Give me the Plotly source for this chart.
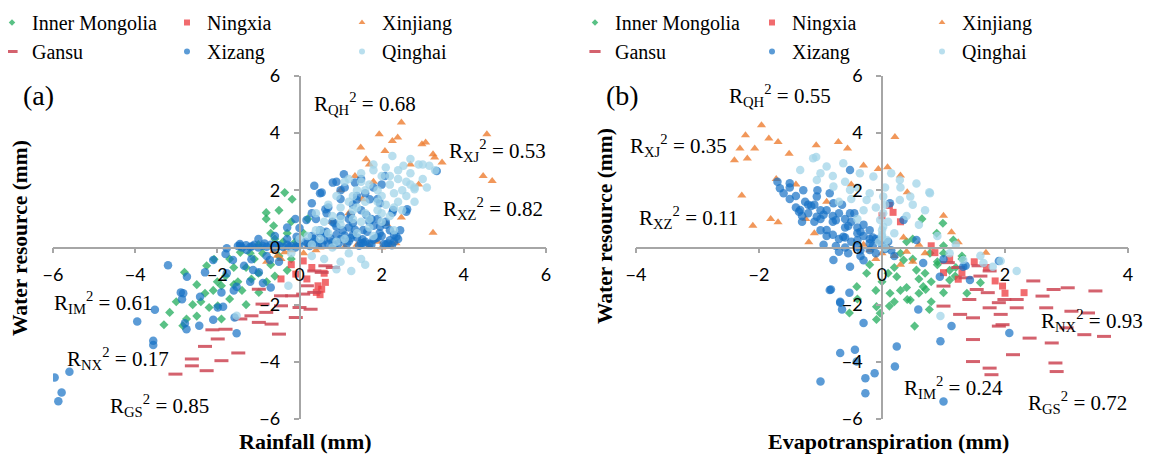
import plotly.graph_objects as go

# ---------------- data ----------------
series_names = ["Inner Mongolia", "Ningxia", "Xinjiang", "Gansu", "Xizang", "Qinghai"]

# Panel (a): Rainfall (x) vs Water resource (y)
im_a_x = [-0.36,-0.18,-0.81,-0.81,-0.63,-2.8,-3.16,-2.75,-2.84,-1.99,-1.9,-2.26,-2.08,-1.44,-1.17,-0.99,-2.5,-2.3,-2.2,-1.7,-1.5,-1.3,-1.1,-0.9,-0.7,-0.5,-0.4,-0.6,-0.3,-0.2,-0.5,-0.7,-1.0,-1.2,-1.6,-1.8,-2.0,-2.4,-2.6,-3.0,-1.4,-1.0,-0.8,-0.3,-0.1,-0.2,-1.7,-2.1,-1.3,-2.5,-0.6,0.1,0.2,-3.3,-1.9,-1.6]
im_a_y = [1.92,1.69,1.22,1.0,0.76,-0.87,-2.27,-2.5,-2.74,-2.04,-1.34,-0.64,-0.41,-0.17,-1.1,-1.57,-1.3,-1.6,-2.1,-1.8,-1.2,-0.7,-0.4,-0.2,-0.6,-0.3,0.2,0.3,0.5,0.9,1.3,0.5,0.1,-0.2,-0.7,-1.0,-1.2,-1.9,-2.0,-1.9,-1.5,-0.9,-1.2,-0.8,0.2,-0.4,-0.4,-1.5,-2.0,-2.4,-1.0,0.5,1.0,-2.7,-2.5,-1.3]

nx_a_x = [0.45,0.54,0.41,0.18,0.63,-0.09,-0.45,0.09,0.3,0.6,-0.2,0.5]
nx_a_y = [-1.34,-1.46,-1.57,-1.1,-1.22,-0.93,-1.1,-0.47,-0.7,-0.9,-0.6,-1.65]

xj_a_x = [2.48,1.94,2.39,2.26,1.49,1.62,2.08,3.07,2.98,4.56,3.29,3.47,3.25,4.47,4.69,3.25,2.48,2.12,1.35,1.53,1.7,2.7,2.9,1.8,1.2,1.0,0.8,0.2,0.5,0.8,1.1,1.4,1.7,2.0,2.2,2.35,1.9,0.4,0.1,-0.54,-0.36,-0.63,-0.2,-0.45,-0.8]
xj_a_y = [4.37,3.96,3.85,3.73,3.5,3.09,3.38,3.67,3.61,3.96,3.15,2.97,3.26,2.5,2.33,0.52,1.05,0.82,2.5,1.69,2.9,2.9,2.2,2.3,1.2,2.0,0.9,0.05,0.0,0.08,0.02,0.1,0.05,0.0,0.08,0.15,0.2,-0.1,-0.2,-0.29,-0.17,-0.12,-0.1,-0.4,-0.5]

gs_a_x = [-3.02,-2.62,-2.26,-2.62,-2.3,-1.9,-1.49,-1.99,-2.12,-1.8,-1.44,-1.17,-0.99,-0.68,-0.5,-0.81,-0.45,-0.09,0.0,0.27,-0.18,0.09,0.36,0.18,0.54,0.81,0.63,0.36,-0.45,-0.9,-0.99]
gs_a_y = [-4.43,-4.14,-4.31,-3.9,-3.46,-3.96,-3.69,-3.2,-2.88,-2.86,-2.5,-2.39,-2.62,-2.68,-3.03,-2.27,-2.04,-2.45,-2.1,-2.16,-1.69,-1.63,-1.57,-1.34,-0.87,-0.7,-0.64,-0.82,-1.69,-1.98,-1.46]

xz_a_x = [-5.96,-5.79,-5.87,-5.6,-3.95,-3.56,-3.56,-3.2,-3.52,-2.89,-2.86,-2.75,-2.44,-2.3,-1.58,-1.53,-1.99,-1.9,-1.8,-1.44,-1.35,-1.17,-0.99,
          -1.5,-1.4,-1.3,-1.2,-1.1,-1.0,-0.9,-0.8,-0.7,-0.6,-0.5,-0.4,-0.3,-0.2,-0.1,0.0,
          -0.6,-0.3,-0.1,-0.3,-1.0,-0.8,-0.5,-1.2,-0.7,-1.6,
          0.9,1.1,0.5,0.3,0.66,0.17,0.0,-0.07,1.39,1.63,1.96,2.28,2.6,2.36,1.3,0.9,1.55,1.96,
          0.2,0.4,0.6,0.8,1.0,1.2,1.4,1.6,1.8,2.0,2.2,2.4,0.3,0.7,1.1,1.5,1.9,2.3,0.5,1.3,1.7,2.1,
          -1.77,-2.1,-2.74,-2.42,-2.83,-1.62,-1.28,-1.13,-1.53,-1.86,-2.1,-2.79,-0.89,-0.72,-1.77,
          0.36,0.54,0.81,1.08,1.35,0.63,1.71,2.62,2.08,3.34,2.26,1.8,1.53,
          0.5,0.8,1.0,1.2,1.5,1.7,1.9,2.1,0.4,0.7,1.0,1.3,1.6,1.9,2.2,0.6,0.9,1.2,1.4,1.8,2.0,0.3,1.0,1.5,
          0.25,0.45,0.85,1.15,1.45,1.75,2.05,2.25,-1.45,-1.15,-0.85,-0.55,-0.25,-0.05,
          0.35,0.55,0.75,0.95,1.25,1.55,1.85,2.15,0.65,1.05,1.35,1.65,1.95,2.3,0.15,0.85,1.25,1.75,2.1,2.45]
xz_a_y = [-4.55,-5.07,-5.38,-4.35,-2.59,-3.26,-3.41,-0.62,-2.18,-1.57,-1.81,-2.86,-2.74,-0.87,-2.45,-3.0,-2.1,-1.57,-0.23,0.06,-0.64,-0.41,-0.87,
          0.05,0.0,0.08,0.02,0.1,0.0,0.06,0.03,0.1,0.0,0.07,0.02,0.1,0.05,0.0,0.1,
          0.4,0.7,1.0,0.3,0.3,-0.3,-0.5,-1.2,-1.4,-1.5,
          2.3,2.1,1.9,1.55,1.2,0.96,0.68,0.38,1.66,1.14,1.55,1.31,1.25,0.38,0.86,0.73,0.61,0.73,
          0.15,0.2,0.25,0.18,0.3,0.22,0.35,0.2,0.28,0.4,0.25,0.3,0.4,0.12,0.42,0.15,0.35,0.2,0.5,0.45,0.12,0.1,
          -0.03,-0.44,-1.02,-1.72,-1.6,-0.44,-0.09,-0.79,-1.37,-2.07,-2.53,-2.65,-1.24,-0.44,-0.9,
          2.16,1.92,2.27,2.56,2.27,1.34,1.69,1.34,2.5,2.68,1.22,0.76,0.29,
          0.6,0.9,1.1,1.0,1.3,0.9,1.0,0.8,1.0,1.4,1.7,1.5,1.9,1.7,0.6,0.5,0.45,0.7,1.8,2.1,2.2,1.2,2.0,2.4,
          0.05,0.1,0.08,0.12,0.06,0.1,0.12,0.08,0.12,0.04,0.14,0.08,0.03,0.12,
          0.3,0.12,0.32,0.14,0.33,0.16,0.32,0.14,0.55,0.6,0.62,0.55,0.5,0.45,0.2,0.85,1.15,1.0,0.9,0.6]

qh_a_x = [2.26,2.53,3.16,2.8,1.26,0.9,-0.27,-1.53,1.5,1.8,2.0,2.2,2.4,2.7,3.0,2.9,2.6,2.3,2.0,1.7,1.4,1.2,1.0,0.8,0.6,0.4,0.2,0.0,0.3,0.5,0.7,1.0,1.3,1.6,1.9,2.1,2.4,2.6,2.8,1.1,1.4,1.7,2.0,0.8,1.2,1.5,0.6,0.3,-0.2,0.9,1.1,1.6,1.9,2.5,2.2,1.8,2.3,1.3,0.7,1.5,0.4,3.3,3.1,2.7,1.6,1.0,
          1.2,1.5,1.8,2.1,2.4,2.7,1.0,1.3,1.6,1.9,2.2,2.5,2.8,3.0,1.7,2.0,2.3,0.5,0.9,1.4]
qh_a_y = [3.2,2.86,2.86,2.04,-0.82,-0.76,-1.34,-2.39,2.6,2.9,2.5,2.2,2.7,2.6,2.4,2.9,2.3,1.9,1.8,2.2,2.0,1.6,1.4,1.1,0.9,0.6,0.4,0.3,0.1,0.3,0.5,0.8,1.0,1.2,1.3,1.5,1.6,1.8,1.6,0.3,0.5,0.7,0.9,0.0,-0.2,-0.4,-0.4,-0.3,-0.2,1.8,2.3,1.6,2.0,2.0,1.1,0.4,0.6,1.3,1.5,0.9,1.2,2.7,2.1,3.1,-0.6,-0.5,
          2.4,2.3,2.7,2.8,2.4,2.2,1.0,1.8,2.0,1.6,2.5,1.3,2.1,2.9,1.0,1.2,1.4,0.6,0.2,1.4]

# Panel (b): Evapotranspiration (x) vs Water resource (y)
im_b_x = [0.24,0.13,-0.09,-0.03,0.35,0.56,0.78,0.89,0.99,1.16,0.67,0.46,-0.25,-0.41,1.1,1.38,-0.09,-0.53,0.77,1.0,0.53,1.19,1.6,1.0,0.65,0.12,0.41,0.71,0.3,0.5,0.9,1.3,0.0,-0.2,0.2,0.6,1.2,0.8,0.4,-0.4,
          0.5,0.7,0.9,1.1,1.3,0.3,0.1,-0.1,0.6,0.8,1.0,0.4,0.2]
im_b_y = [-1.02,-1.6,-2.07,-2.3,-0.44,-0.79,-0.2,0.5,0.85,0.26,-1.37,-1.84,-0.9,-1.37,-1.14,-1.6,-2.52,-2.29,-2.17,-1.58,-2.75,-1.0,-1.23,0.06,1.0,-2.05,-1.82,-1.47,-0.2,0.3,-0.6,-0.3,-1.2,-0.6,-0.7,-1.1,-0.7,-1.9,-1.4,-1.8,
          -0.4,-0.9,-0.5,-0.8,-0.4,-1.5,-0.9,-1.5,-1.6,-1.2,-0.2,0.2,-1.9]

nx_b_x = [1.96,2.31,1.84,1.3,1.24,1.0,0.18,0.12,0.0,0.86,0.8,1.7,1.5,2.0,1.1,0.3]
nx_b_y = [-1.35,-1.58,-1.17,-0.88,-1.11,-0.88,1.23,1.47,1.11,-0.18,0.06,-0.7,-0.5,-1.6,-0.4,0.9]

xj_b_x = [-1.96,-2.22,-1.84,-1.69,-2.4,-2.19,-2.07,-2.31,-1.51,-0.71,-0.56,-1.07,0.21,-2.28,-2.1,-1.81,-1.69,-1.24,-1.19,-1.72,-0.3,-0.06,0.09,0.3,0.41,1.0,1.24,1.69,1.13,-1.4,-0.9,-0.5,-1.1,
          -0.2,0.0,0.2,0.4,0.1,-0.3,0.5,0.3,0.6,0.7,-0.1,0.35]
xj_b_y = [4.28,3.93,3.81,3.69,3.05,3.11,3.46,3.46,3.28,3.69,3.46,3.58,3.87,1.82,0.76,1.0,0.88,1.0,0.18,2.4,2.87,2.75,2.81,2.52,1.93,1.11,0.18,-0.18,0.53,2.2,1.6,2.2,0.5,
          -0.1,-0.2,-0.3,-0.15,0.0,0.1,-0.5,-0.6,0.1,-0.2,-0.4,0.35]

gs_b_x = [3.02,3.47,2.46,2.61,2.79,3.08,2.67,2.19,1.99,1.93,1.75,1.72,1.54,1.42,1.27,1.48,1.48,1.48,1.75,1.78,2.13,2.4,2.76,2.82,2.84,3.29,3.61,3.35,3.0,1.6,1.36,1.57,1.75,1.9,2.19,1.07,1.24,1.0,1.0,1.96,1.9]
gs_b_y = [-1.41,-1.52,-1.17,-1.7,-1.47,-2.23,-2.11,-2.11,-1.82,-2.34,-2.11,-1.58,-1.47,-1.82,-2.34,-2.46,-3.22,-3.99,-4.22,-4.45,-3.75,-3.17,-3.34,-4.04,-4.34,-3.05,-3.11,-2.29,-2.81,-1.0,-1.06,-0.64,-0.82,-1.93,-1.82,-0.53,-0.7,-2.05,-1.35,-2.7,-2.75]

xz_b_x = [-1.0,-0.68,-0.44,-0.41,-0.27,-0.27,-0.12,0.21,0.24,1.0,0.95,1.13,2.07,-0.3,-0.83,-0.68,-0.65,-0.53,0.59,1.36,1.9,1.0,
          -1.66,-1.5,-1.28,-1.06,-0.79,-0.52,-0.52,-1.06,-1.33,-0.9,-0.63,-0.41,-0.2,-0.79,-0.52,-0.85,-0.68,0.13,0.35,0.56,0.67,0.94,1.32,1.43,
          -1.4,-1.2,-1.0,-0.8,-0.6,-0.4,-0.2,0.0,-1.5,-1.1,-0.7,-0.3,0.1,-0.9,-0.5,-1.3,-0.1,0.2,-0.6,-1.7,-0.95,-0.35,-0.15,0.05,
          -1.6,-1.4,-1.2,-1.0,-0.8,-0.6,-0.4,-1.5,-1.3,-1.1,-0.9,-0.7,-0.5,-0.3,-0.2,-0.45,-0.65,-0.85,-1.05,-1.25,-0.1,0.15,-0.35,-0.55,-0.75,
          -1.35,-1.15,-0.95,-0.75,-0.55,-0.35,-0.15,-1.0,-0.8,-0.6,-0.4,-0.2,-0.05,-0.7,-0.3]
xz_b_y = [-4.69,-3.69,-3.58,-3.99,-4.57,-5.1,-4.4,-4.16,-3.46,-5.39,-3.28,-2.75,-2.99,-2.64,-1.47,-1.93,-2.17,-1.58,-2.17,-0.64,-0.47,-0.41,
          2.07,2.25,2.0,1.78,1.55,2.71,1.2,1.08,1.31,0.61,0.38,0.03,-0.09,-0.44,-0.67,-1.49,-1.9,1.55,0.96,0.26,-0.54,-1.02,-0.67,-1.14,
          1.4,1.2,1.0,0.9,0.7,0.5,0.3,0.1,1.7,1.5,1.2,0.8,0.2,0.4,0.2,0.9,-0.2,-0.3,0.0,2.3,0.1,-0.1,0.05,-0.05,
          1.9,1.8,1.5,1.3,1.1,1.0,0.7,2.1,1.1,0.9,1.3,0.3,0.9,0.4,0.6,1.2,1.5,1.9,2.0,1.6,0.3,-0.1,-0.3,-0.2,0.05,
          1.25,1.45,1.15,0.95,0.75,0.55,0.35,0.6,0.45,0.35,0.25,0.15,0.25,-0.15,-0.45]

qh_b_x = [-1.12,-0.9,-0.63,-0.36,-0.14,0.02,0.02,0.02,0.0,0.08,-0.03,0.29,0.46,0.78,0.56,0.29,-0.25,-0.52,-0.79,-1.06,-1.33,1.1,1.32,1.65,1.8,2.19,1.93,0.77,0.95,1.6,-1.07,
          0.05,0.0,0.1,-0.05,0.05,0.6,0.9,1.2,-0.7,-0.4,0.4,
          -1.0,-0.8,-0.6,-0.4,-0.2,0.15,0.3,0.5,0.7,-0.3,-0.5,-0.1,0.2,0.05,0.0]
qh_b_y = [3.12,2.83,2.95,2.6,2.48,1.78,1.2,0.73,0.38,0.26,0.96,1.66,1.78,1.9,2.24,2.36,1.66,2.01,2.13,2.36,2.71,-0.2,-0.44,-0.54,-0.67,-0.82,-0.47,1.93,-2.4,-0.29,3.17,
          1.5,0.6,0.9,0.2,2.1,0.8,0.4,0.1,1.6,1.0,1.1,
          2.6,2.5,2.3,2.1,1.9,2.6,2.1,1.5,1.3,1.3,1.7,1.4,0.5,0.0,0.45]

r2_a_labels = ["QH", "XJ", "XZ", "IM", "NX", "GS"]
r2_a_values = ["0.68", "0.53", "0.82", "0.61", "0.17", "0.85"]
r2_b_labels = ["QH", "XJ", "XZ", "NX", "IM", "GS"]
r2_b_values = ["0.55", "0.35", "0.11", "0.93", "0.24", "0.72"]

# ---------------- layout helpers ----------------
# The page body has an 8 px default margin, so the figure is drawn 8 px smaller and
# every reference pixel position is converted with that offset.
OFF = 8
W, H = 1151 - OFF, 456 - OFF
ML, MR, MT, MB = 53 - OFF, 23, 76 - OFF, 37
PW, PH = W - ML - MR, H - MT - MB

def px(p):
    return (p - OFF - ML) / PW

def py(p):
    return (H - MB - (p - OFF)) / PH

SERIF = "Liberation Serif"
SANS = "Lato"

styles = {
    "Inner Mongolia": dict(symbol="diamond", size=7, color="rgba(34,172,92,0.75)"),
    "Ningxia": dict(symbol="square", size=7, color="rgba(236,58,62,0.75)"),
    "Xinjiang": dict(symbol="triangle-up", size=8, color="rgba(237,125,49,0.8)"),
    "Gansu": dict(symbol="line-ew", size=10, color="rgba(205,70,85,0.85)"),
    "Xizang": dict(symbol="circle", size=8.5, color="rgba(22,112,196,0.7)"),
    "Qinghai": dict(symbol="circle", size=8.5, color="rgba(162,212,232,0.75)"),
}
legend_small = {"Inner Mongolia": 5, "Ningxia": 6, "Xinjiang": 6, "Gansu": 8, "Xizang": 6, "Qinghai": 6}

def marker_for(name, size=None):
    s = styles[name]
    sz = s["size"] if size is None else size
    if s["symbol"] == "line-ew":
        return dict(symbol="line-ew", size=sz, line=dict(color=s["color"], width=3))
    return dict(symbol=s["symbol"], size=sz, color=s["color"], line=dict(width=0))

data_a = {
    "Inner Mongolia": (im_a_x, im_a_y), "Ningxia": (nx_a_x, nx_a_y), "Xinjiang": (xj_a_x, xj_a_y),
    "Gansu": (gs_a_x, gs_a_y), "Xizang": (xz_a_x, xz_a_y), "Qinghai": (qh_a_x, qh_a_y),
}
data_b = {
    "Inner Mongolia": (im_b_x, im_b_y), "Ningxia": (nx_b_x, nx_b_y), "Xinjiang": (xj_b_x, xj_b_y),
    "Gansu": (gs_b_x, gs_b_y), "Xizang": (xz_b_x, xz_b_y), "Qinghai": (qh_b_x, qh_b_y),
}

fig = go.Figure()

col_of = {"Inner Mongolia": 0, "Gansu": 0, "Ningxia": 1, "Xizang": 1, "Xinjiang": 2, "Qinghai": 2}
legend_ids_a = ["legend", "legend2", "legend3"]
legend_ids_b = ["legend4", "legend5", "legend6"]

for data, xa, ya, leg_ids in [(data_a, "x", "y", legend_ids_a), (data_b, "x2", "y2", legend_ids_b)]:
    for name in series_names:
        xs, ys = data[name]
        fig.add_trace(go.Scatter(x=xs, y=ys, mode="markers", name=name, xaxis=xa, yaxis=ya,
                                 marker=marker_for(name), showlegend=False, hoverinfo="x+y+name"))
    for name in ["Inner Mongolia", "Ningxia", "Xinjiang", "Gansu", "Xizang", "Qinghai"]:
        fig.add_trace(go.Scatter(x=[None], y=[None], mode="markers", name=name, xaxis=xa, yaxis=ya,
                                 marker=marker_for(name, legend_small[name]), showlegend=True,
                                 legend=leg_ids[col_of[name]]))

legend_text_x_a = [32, 207, 382]
legend_text_x_b = [615, 792, 962]
leg_layout = {}
for ids, txs in [(legend_ids_a, legend_text_x_a), (legend_ids_b, legend_text_x_b)]:
    for lid, tx in zip(ids, txs):
        leg_layout[lid] = dict(x=px(tx - 40), y=py(3), xanchor="left", yanchor="top",
                               orientation="v", bgcolor="rgba(0,0,0,0)", borderwidth=0,
                               font=dict(family=SERIF, size=20, color="black"),
                               itemclick=False, itemdoubleclick=False, tracegroupgap=0)

axis_common = dict(showgrid=False, zeroline=False, showline=True, linecolor="#a6a6a6", linewidth=1.5,
                   ticks="outside", ticklen=5, tickwidth=1.5, tickcolor="#a6a6a6",
                   tickfont=dict(family=SANS, size=18, color="black"), dtick=2, tick0=0,
                   anchor="free", fixedrange=True, ticklabelstandoff=6)

fig.update_layout(
    width=W, height=H, margin=dict(l=ML, r=MR, t=MT, b=MB, autoexpand=False),
    font=dict(family=SERIF, color="black"),
    paper_bgcolor="white", plot_bgcolor="white",
    xaxis=dict(axis_common, domain=[px(53), px(546)], range=[-6, 6], position=py(247.5)),
    yaxis=dict(axis_common, domain=[py(419), py(76)], range=[-6, 6], position=px(299.5), ticklabelstandoff=10),
    xaxis2=dict(axis_common, domain=[px(636), px(1128)], range=[-4, 4], position=py(247.5)),
    yaxis2=dict(axis_common, domain=[py(419), py(76)], range=[-6, 6], position=px(882), ticklabelstandoff=10),
    showlegend=True,
    **leg_layout,
)

annotations = []
def add_text(text, xp, yp, size=21, xanchor="left", angle=0, bold=False):
    annotations.append(dict(text=("<b>%s</b>" % text) if bold else text, x=px(xp), y=py(yp),
                            xref="paper", yref="paper", xanchor=xanchor, yanchor="middle",
                            showarrow=False, textangle=angle, borderpad=0,
                            font=dict(family=SERIF, size=size, color="black")))

add_text("(a)", 22, 95, size=28)
add_text("(b)", 605, 95, size=28)

pos_a = [(313, 103), (448, 150), (442, 208), (53, 302), (66, 358), (109, 405)]
pos_b = [(728, 95), (629, 145), (638, 217), (1040, 320), (903, 387), (1027, 402)]
for labels, vals, poss in [(r2_a_labels, r2_a_values, pos_a), (r2_b_labels, r2_b_values, pos_b)]:
    for lab, val, (xp, yp) in zip(labels, vals, poss):
        add_text("R<sub>%s</sub><sup>2</sup> = %s" % (lab, val), xp, yp)

add_text("Water resource (mm)", 20, 238, size=21.5, angle=-90, xanchor="center", bold=True)
add_text("Water resource (mm)", 605, 226, size=21.5, angle=-90, xanchor="center", bold=True)
add_text("Rainfall (mm)", 305, 441, size=22, xanchor="center", bold=True)
add_text("Evapotranspiration (mm)", 888, 441, size=22, xanchor="center", bold=True)

fig.update_layout(annotations=annotations)

fig.write_html("out.html")
